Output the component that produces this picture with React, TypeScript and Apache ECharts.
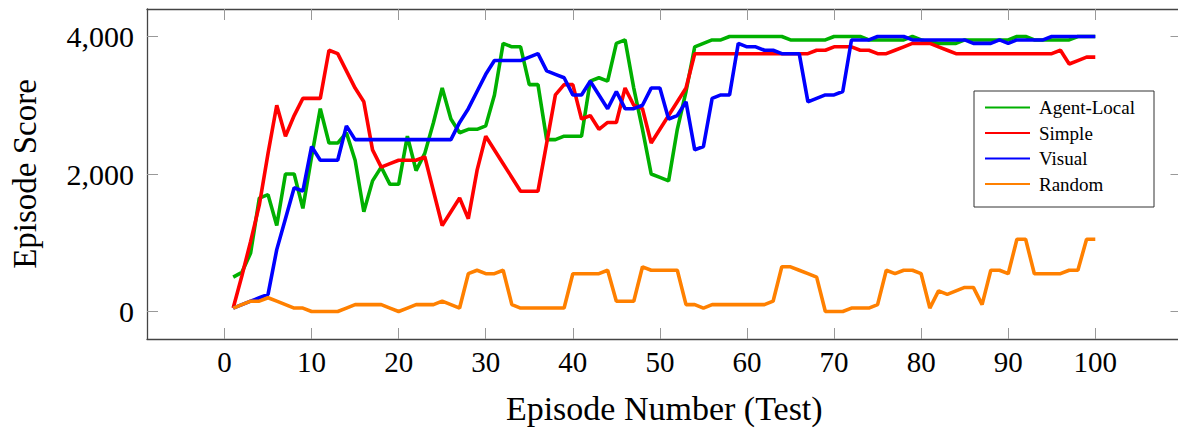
import React, { useEffect, useRef } from "react";
import * as echarts from "echarts";

const episodes: number[] = Array.from({ length: 100 }, (_, i) => i + 1);

const agentLocal: number[] = [
  500, 570, 850, 1650, 1700, 1250, 2000, 2000, 1500, 2250,
  2950, 2450, 2450, 2600, 2200, 1450, 1900, 2100, 1850, 1850,
  2550, 2050, 2300, 2750, 3250, 2800, 2600, 2650, 2650, 2700,
  3150, 3900, 3850, 3850, 3300, 3300, 2500, 2500, 2550, 2550,
  2550, 3350, 3400, 3350, 3900, 3950, 3250, 2650, 2000, 1950,
  1900, 2650, 3200, 3850, 3900, 3950, 3950, 4000, 4000, 4000,
  4000, 4000, 4000, 4000, 3950, 3950, 3950, 3950, 3950, 4000,
  4000, 4000, 4000, 3950, 3950, 3950, 3950, 3950, 4000, 3950,
  3920, 3900, 3900, 3900, 3950, 3950, 3950, 3950, 3950, 3950,
  4000, 4000, 3950, 3950, 3950, 3950, 3950, 4000, 4000, 4000,
];

const simple: number[] = [
  50, 520, 1020, 1550, 2300, 3000, 2550, 2850, 3100, 3100,
  3100, 3800, 3750, 3500, 3250, 3050, 2350, 2100, 2150, 2200,
  2200, 2200, 2250, 1750, 1250, 1450, 1650, 1350, 2050, 2550,
  2350, 2150, 1950, 1750, 1750, 1750, 2450, 3150, 3300, 3300,
  2800, 2850, 2650, 2750, 2750, 3250, 3000, 2950, 2450, 2650,
  2850, 3050, 3250, 3750, 3750, 3750, 3750, 3750, 3750, 3750,
  3750, 3750, 3750, 3750, 3750, 3750, 3750, 3800, 3800, 3850,
  3850, 3850, 3800, 3800, 3750, 3750, 3800, 3850, 3900, 3900,
  3900, 3850, 3800, 3750, 3750, 3750, 3750, 3750, 3750, 3750,
  3750, 3750, 3750, 3750, 3750, 3800, 3600, 3650, 3700, 3700,
];

const visual: number[] = [
  50, 100, 150, 200, 250, 900, 1350, 1800, 1750, 2400,
  2200, 2200, 2200, 2700, 2500, 2500, 2500, 2500, 2500, 2500,
  2500, 2500, 2500, 2500, 2500, 2500, 2750, 2950, 3200, 3450,
  3650, 3650, 3650, 3650, 3700, 3750, 3500, 3450, 3400, 3150,
  3150, 3350, 3150, 2950, 3200, 2950, 2950, 3000, 3250, 3250,
  2800, 2850, 3050, 2350, 2400, 3100, 3150, 3150, 3900, 3850,
  3850, 3800, 3800, 3750, 3750, 3750, 3050, 3100, 3150, 3150,
  3200, 3950, 3950, 3950, 4000, 4000, 4000, 4000, 3950, 3950,
  3950, 3950, 3950, 3950, 3950, 3900, 3900, 3900, 3950, 3900,
  3950, 3950, 3950, 3950, 4000, 4000, 4000, 4000, 4000, 4000,
];

const random: number[] = [
  50, 100, 150, 150, 200, 150, 100, 50, 50, 0,
  0, 0, 0, 50, 100, 100, 100, 100, 50, 0,
  50, 100, 100, 100, 150, 100, 50, 550, 600, 550,
  550, 600, 100, 50, 50, 50, 50, 50, 50, 550,
  550, 550, 550, 600, 150, 150, 150, 650, 600, 600,
  600, 600, 100, 100, 50, 100, 100, 100, 100, 100,
  100, 100, 150, 650, 650, 600, 550, 500, 0, 0,
  0, 50, 50, 50, 100, 600, 550, 600, 600, 550,
  50, 300, 250, 300, 350, 350, 100, 600, 600, 550,
  1050, 1050, 550, 550, 550, 550, 600, 600, 1050, 1050,
];

const seriesNames: string[] = ["Agent-Local", "Simple", "Visual", "Random"];
const seriesColors: string[] = ["#00b000", "#ff0000", "#0000ff", "#ff8000"];
const xTicks: number[] = [0, 10, 20, 30, 40, 50, 60, 70, 80, 90, 100];
const yTicks: number[] = [0, 2000, 4000];

const FONT = "'Liberation Serif', 'Times New Roman', serif";

export default function App() {
  const ref = useRef<HTMLDivElement>(null);

  useEffect(() => {
    if (!ref.current) return;
    const chart = echarts.init(ref.current, undefined, { renderer: "svg" });
    const allData = [agentLocal, simple, visual, random];

    const axisLine = { show: true, onZero: false, lineStyle: { color: "#444", width: 1.3 } };
    const tickStyle = { color: "#999", width: 1 };

    chart.setOption({
      animation: false,
      textStyle: { fontFamily: FONT, color: "#000" },
      grid: { left: 144, right: 8.5, top: 9, bottom: 88, containLabel: false },
      xAxis: [
        {
          type: "value",
          position: "bottom",
          min: -8.9,
          max: 109.9,
          axisLine,
          axisTick: { show: true, inside: true, length: 11, customValues: xTicks, lineStyle: tickStyle },
          axisLabel: {
            customValues: xTicks,
            fontFamily: FONT,
            fontSize: 29,
            color: "#000",
            margin: 8,
          },
          splitLine: { show: false },
          name: "Episode Number (Test)",
          nameLocation: "middle",
          nameGap: 52,
          nameTextStyle: { fontFamily: FONT, fontSize: 34, color: "#000" },
        },
        {
          type: "value",
          position: "top",
          min: -8.9,
          max: 109.9,
          axisLine,
          axisTick: { show: true, inside: true, length: 11, customValues: xTicks, lineStyle: tickStyle },
          axisLabel: { show: false },
          splitLine: { show: false },
        },
      ],
      yAxis: [
        {
          type: "value",
          position: "left",
          min: -400,
          max: 4400,
          axisLine,
          axisTick: { show: true, inside: true, length: 11, customValues: yTicks, lineStyle: tickStyle },
          axisLabel: {
            customValues: yTicks,
            fontFamily: FONT,
            fontSize: 30,
            color: "#000",
            margin: 13,
            formatter: (v: number) => v.toLocaleString("en-US"),
          },
          splitLine: { show: false },
          name: "Episode Score",
          nameLocation: "middle",
          nameGap: 106,
          nameTextStyle: { fontFamily: FONT, fontSize: 33, color: "#000" },
        },
        {
          type: "value",
          position: "right",
          min: -400,
          max: 4400,
          axisLine,
          axisTick: { show: true, inside: true, length: 11, customValues: yTicks, lineStyle: tickStyle },
          axisLabel: { show: false },
          splitLine: { show: false },
        },
      ],
      legend: {
        orient: "vertical",
        left: 984,
        top: 98,
        padding: 0,
        itemWidth: 45,
        itemHeight: 20,
        itemGap: 6.5,
        itemStyle: { opacity: 0, borderWidth: 0 },
        data: seriesNames,
        formatter: (name: string) => `{t|${name}}`,
        textStyle: {
          fontFamily: FONT,
          fontSize: 19,
          color: "#000",
          rich: { t: { fontFamily: FONT, fontSize: 19, color: "#000", padding: [0, 0, 0, 4] } },
        },
        z: 5,
      },
      graphic: [
        {
          type: "rect",
          z: 4,
          shape: { x: 974, y: 91, width: 180, height: 116 },
          style: { fill: "#fff", stroke: "#333", lineWidth: 1 },
        },
      ],
      series: seriesNames.map((name, i) => ({
        name,
        type: "line",
        xAxisIndex: 0,
        yAxisIndex: 0,
        data: episodes.map((e, j) => [e, allData[i][j]]),
        symbol: "none",
        showSymbol: false,
        lineStyle: { color: seriesColors[i], width: 3.6 },
        itemStyle: { color: seriesColors[i] },
        z: 2 + i * 0.1,
      })),
    });

    return () => chart.dispose();
  }, []);

  return (
    <div style={{ position: "fixed", left: 0, top: 0, width: 1178, height: 430, overflow: "hidden", background: "#fff" }}>
      <div ref={ref} style={{ width: 1190, height: 430 }} />
    </div>
  );
}
